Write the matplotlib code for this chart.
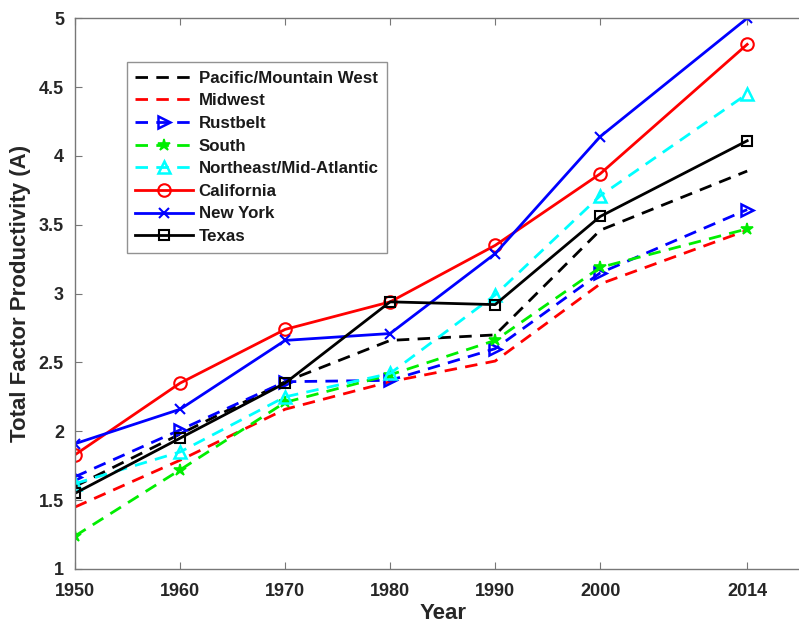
import matplotlib
matplotlib.use('Agg')
import matplotlib.pyplot as plt

years = [1950, 1960, 1970, 1980, 1990, 2000, 2014]
year_ticks = [1950, 1960, 1970, 1980, 1990, 2000, 2014]

pacific = [1.60, 1.98, 2.36, 2.66, 2.70, 3.46, 3.89]
midwest = [1.45, 1.79, 2.16, 2.36, 2.51, 3.07, 3.46]
rustbelt = [1.67, 2.01, 2.36, 2.37, 2.60, 3.15, 3.61]
south = [1.24, 1.72, 2.21, 2.41, 2.66, 3.19, 3.47]
northeast = [1.62, 1.85, 2.25, 2.42, 2.99, 3.71, 4.45]
california = [1.83, 2.35, 2.74, 2.94, 3.35, 3.87, 4.81]
new_york = [1.91, 2.16, 2.66, 2.71, 3.29, 4.14, 5.00]
texas = [1.55, 1.95, 2.35, 2.94, 2.92, 3.56, 4.11]

plt.rcParams['font.family'] = ['Liberation Sans', 'DejaVu Sans']
plt.rcParams['font.weight'] = 'bold'

fig = plt.figure(figsize=(7.99, 6.28), dpi=100, facecolor='white')
# right edge of the box falls outside the picture, as in the original crop
ax = fig.add_axes([0.094, 0.094, 0.92, 0.877])

dash = (0, (4.5, 3))
lw = 2.0
ax.plot(years, pacific, color='black', linestyle=dash, linewidth=lw, label='Pacific/Mountain West')
ax.plot(years, midwest, color='red', linestyle=dash, linewidth=lw, label='Midwest')
ax.plot(years, rustbelt, color='blue', linestyle=dash, linewidth=lw, marker='>',
        markersize=9, markerfacecolor='none', markeredgewidth=1.8, label='Rustbelt')
ax.plot(years, south, color='#00ee00', linestyle=dash, linewidth=lw, marker='*',
        markersize=9, markeredgewidth=1.2, label='South')
ax.plot(years, northeast, color='cyan', linestyle=dash, linewidth=lw, marker='^',
        markersize=9, markerfacecolor='none', markeredgewidth=1.8, label='Northeast/Mid-Atlantic')
ax.plot(years, california, color='red', linestyle='-', linewidth=lw, marker='o',
        markersize=9, markerfacecolor='none', markeredgewidth=1.5, label='California')
ax.plot(years, new_york, color='blue', linestyle='-', linewidth=lw, marker='x',
        markersize=7, markeredgewidth=1.5, label='New York')
ax.plot(years, texas, color='black', linestyle='-', linewidth=lw, marker='s',
        markersize=7, markerfacecolor='none', markeredgewidth=1.5, label='Texas')

ax.set_xlim(1950, 2020)
ax.set_ylim(1, 5)
ax.set_xticks(year_ticks)
ax.set_yticks([1, 1.5, 2, 2.5, 3, 3.5, 4, 4.5, 5])
ax.set_yticklabels(['1', '1.5', '2', '2.5', '3', '3.5', '4', '4.5', '5'])

for s in ax.spines.values():
    s.set_color('#777777')
    s.set_linewidth(1.0)
ax.tick_params(direction='in', top=True, right=True, length=5, color='#777777',
               labelsize=13, labelcolor='#262626')
ax.tick_params(axis='x', pad=10)
ax.tick_params(axis='y', pad=8)
for lab in ax.get_xticklabels() + ax.get_yticklabels():
    lab.set_fontweight('bold')

ax.set_xlabel('Year', fontsize=16, fontweight='bold', color='#262626', labelpad=2)
ax.set_ylabel('Total Factor Productivity (A)', fontsize=16, fontweight='bold',
              color='#262626', labelpad=6)

leg = ax.legend(loc='upper left', bbox_to_anchor=(0.07, 0.92), fontsize=12.2,
                frameon=True, fancybox=False, handlelength=3.4, handletextpad=0.35,
                labelspacing=0.45, borderpad=0.5, borderaxespad=0)
leg.get_frame().set_edgecolor('#777777')
leg.get_frame().set_linewidth(1.0)
for t in leg.get_texts():
    t.set_fontweight('bold')
    t.set_color('#1a1a1a')

plt.savefig('out.png', dpi=100, facecolor='white')
